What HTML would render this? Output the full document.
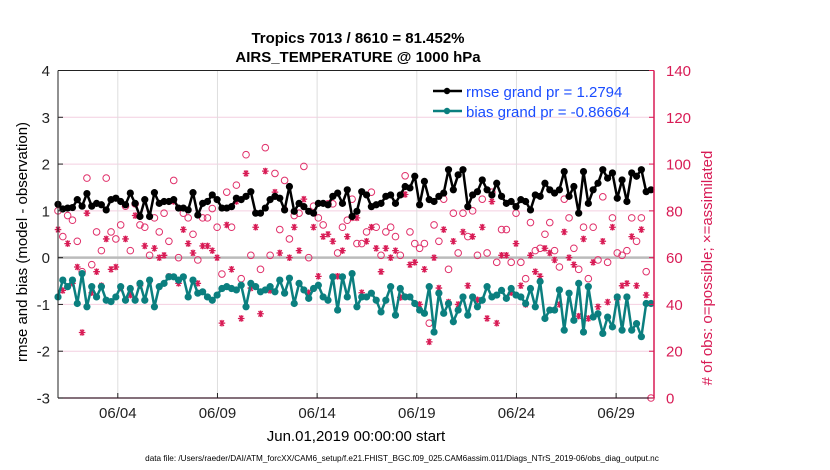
<!DOCTYPE html>
<html><head><meta charset="utf-8">
<style>
html,body{margin:0;padding:0;background:#fff;width:830px;height:470px;overflow:hidden}
svg text{font-family:"Liberation Sans",sans-serif}
</style></head>
<body>
<svg id="chart" width="830" height="470" viewBox="0 0 830 470" xmlns="http://www.w3.org/2000/svg">
<rect x="0" y="0" width="830" height="470" fill="#fff"/>
<text x="358" y="43" text-anchor="middle" font-size="15" font-weight="bold">Tropics 7013 / 8610 = 81.452%</text>
<text x="358" y="62" text-anchor="middle" font-size="15" font-weight="bold">AIRS_TEMPERATURE @ 1000 hPa</text>
<g id="grid"></g>
<g id="marks"></g>
<g id="axes"></g>
<text transform="translate(27,242) rotate(-90)" text-anchor="middle" font-size="15">rmse and bias (model - observation)</text>
<text transform="translate(712,268) rotate(-90)" text-anchor="middle" font-size="15" fill="#d81b55"># of obs: o=possible; ×=assimilated</text>
<text x="356" y="441" text-anchor="middle" font-size="15">Jun.01,2019 00:00:00 start</text>
<text x="402" y="461" text-anchor="middle" font-size="8.2">data file: /Users/raeder/DAI/ATM_forcXX/CAM6_setup/f.e21.FHIST_BGC.f09_025.CAM6assim.011/Diags_NTrS_2019-06/obs_diag_output.nc</text>
<g>
<line x1="433" y1="91" x2="462" y2="91" stroke="#000" stroke-width="2.5"/>
<circle cx="447" cy="91" r="3.2" fill="#000"/>
<text x="466" y="97" font-size="15" fill="#1a4cff">rmse grand pr = 1.2794</text>
<line x1="433" y1="111" x2="462" y2="111" stroke="#0b7f7f" stroke-width="2.5"/>
<circle cx="447" cy="111" r="3.2" fill="#0b7f7f"/>
<text x="466" y="117" font-size="15" fill="#1a4cff">bias grand pr = -0.86664</text>
</g>
</svg>
<script>
const rmse=[1.14,1.04,1.06,1.07,1.24,1.1,1.37,1.1,1.16,1.13,1.02,1.24,1.27,1.2,1.13,1.38,1.16,0.88,1.24,0.88,1.39,1.16,1.2,1.2,1.24,1.06,1.06,1.02,1.39,0.91,
1.16,1.2,1.34,1.24,1.06,1.06,1.09,1.27,1.24,1.31,1.41,0.95,0.95,1.06,1.24,1.31,1.27,1.02,1.52,0.99,1.16,1.09,0.99,0.95,1.16,1.16,1.13,1.31,1.38,1.16,1.45,0.88,
0.99,1.41,1.34,1.09,1.13,1.16,1.31,1.34,1.16,1.34,1.52,1.49,1.74,1.13,1.63,1.24,1.2,1.31,1.38,1.88,1.45,1.77,1.88,1.09,1.34,1.41,1.66,1.45,1.34,1.59,1.31,
1.16,1.2,1.09,1.24,1.2,1.02,1.34,1.31,1.59,1.45,1.38,1.45,1.84,1.31,1.52,0.95,1.84,1.16,1.45,1.59,1.88,1.7,1.81,1.27,1.66,1.2,1.81,1.74,1.88,1.41,1.45];
const bias=[-0.84,-0.48,-0.62,-0.48,-0.98,-0.34,-1.05,-0.62,-0.84,-0.62,-0.91,-0.94,-0.84,-0.62,-0.91,-0.66,-0.91,-0.55,-0.91,-0.48,-1.05,-0.62,-0.55,-0.41,-0.41,-0.48,-0.41,-0.84,-0.48,-0.76,
-0.73,-0.84,-0.91,-0.8,-0.66,-0.62,-0.66,-0.69,-0.59,-1.05,-0.55,-0.62,-0.73,-0.69,-0.62,-0.73,-0.48,-0.76,-0.44,-0.98,-0.55,-0.69,-0.87,-0.66,-0.59,-0.84,-0.91,-0.41,-1.12,-0.41,-0.84,-0.34,
-1.05,-0.84,-0.84,-0.76,-0.91,-1.16,-0.91,-0.62,-1.23,-0.66,-0.84,-0.84,-0.98,-1.12,-1.19,-0.62,-1.59,-0.76,-1.19,-0.98,-1.37,-1.12,-0.84,-1.23,-0.84,-1.05,-0.91,-0.62,-0.84,-0.8,-0.7,
-0.87,-0.66,-0.8,-0.84,-0.98,-0.66,-1.05,-0.51,-1.3,-1.12,-1.12,-0.69,-1.55,-0.76,-1.34,-0.55,-1.59,-0.62,-1.27,-1.2,-1.62,-1.27,-1.48,-0.84,-1.55,-0.84,-1.55,-1.41,-1.69,-0.98,-0.98];
const obsPossible=[80,69,78,76,67,54,94,57,71,63,94,71,68,74,82,63,83,74,73,61,77,71,79,67,93,60,79,77,70,59,77,
77,81,73,53,88,73,91,51,104,61,null,55,107,61,96,72,93,68,78,79,99,60,82,77,74,83,83,62,73,76,85,66,
66,71,88,73,61,71,73,69,61,95,71,66,64,66,32,74,67,85,55,79,62,79,69,80,61,85,62,88,58,72,
72,58,79,58,51,75,63,64,70,75,63,56,85,77,64,55,73,51,73,59,86,58,77,62,61,63,77,67,77,54,0];
const obsAssim=[72,46,66,49,56,28,79,45,54,48,68,55,56,47,68,44,78,48,65,50,64,60,61,52,84,49,72,66,62,49,65,
65,63,60,32,74,55,84,34,96,47,73,36,97,46,88,62,81,60,73,63,85,45,73,52,69,70,67,52,63,69,77,77,
45,67,73,64,54,64,60,63,43,87,57,58,40,55,24,60,47,72,41,67,40,71,48,69,42,73,34,84,32,61,
61,45,66,48,40,61,54,52,64,62,59,40,71,60,57,35,68,34,58,39,67,41,73,42,48,49,69,48,72,44,null];
const xTickDays=[3,8,13,18,23,28];
const xTickLabels=["06/04","06/09","06/14","06/19","06/24","06/29"];
const yLeftTicks=[-3,-2,-1,0,1,2,3,4];
const yRightTicks=[0,20,40,60,80,100,120,140];

const L=58,R=654,T=70.5,B=398;
const xS=d=>L+(d/29.9)*(R-L);
const yL=v=>B-(v+3)/7*(B-T);
const yR=c=>B-c/140*(B-T);
const tOf=i=>i*29.75/(rmse.length-1);
const NS="http://www.w3.org/2000/svg";
function mk(tag,attrs,parent){const e=document.createElementNS(NS,tag);for(const k in attrs)e.setAttribute(k,attrs[k]);parent.appendChild(e);return e;}
const grid=document.getElementById('grid'),marks=document.getElementById('marks'),axes=document.getElementById('axes');

yRightTicks.forEach(c=>{if(c>0&&c<140&&c!==60){const g=mk('line',{x1:L,x2:R,y1:yR(c),y2:yR(c),stroke:'#f4cfe0','stroke-width':1},grid);

}});
xTickDays.forEach(d=>{const g=mk('line',{x1:xS(d),x2:xS(d),y1:T,y2:B,stroke:'#dedede','stroke-width':1},grid);

});
const z=mk('line',{x1:L,x2:R,y1:yL(0),y2:yL(0),stroke:'#bbb','stroke-width':2.5},grid);



obsPossible.forEach((c,i)=>{if(c===null)return;const e=mk('circle',{cx:xS(tOf(i)),cy:yR(c),r:3.3,fill:'none',stroke:'#e0306a','stroke-width':1},marks);

});
obsAssim.forEach((c,i)=>{if(c===null)return;const x=xS(tOf(i)),y=yR(c),s=3.3;
const d=`M${x-s},${y}H${x+s}M${x-s*0.6},${y-s*0.85}L${x+s*0.6},${y+s*0.85}M${x+s*0.6},${y-s*0.85}L${x-s*0.6},${y+s*0.85}M${x},${y-s}V${y+s}`;
const e=mk('path',{d:d,stroke:'#d81b55','stroke-width':1.3,fill:'none'},marks);

});

function series(vals,color,name){
  const pts=vals.map((v,i)=>xS(tOf(i)).toFixed(1)+','+yL(v).toFixed(1)).join(' ');
  const pl=mk('polyline',{points:pts,fill:'none',stroke:color,'stroke-width':2.5,'stroke-linejoin':'round'},marks);
  
  
  vals.forEach((v,i)=>{const c=mk('circle',{cx:xS(tOf(i)),cy:yL(v),r:3.6,fill:color},marks);
  
  });
}
series(bias,'#0b7f7f','bias');
series(rmse,'#000','rmse');

const la=mk('line',{x1:L,x2:L,y1:T,y2:B,stroke:'#222','stroke-width':1},axes);


const ta=mk('line',{x1:L,x2:R,y1:T,y2:T,stroke:'#222','stroke-width':1},axes);


const ba=mk('line',{x1:L,x2:R,y1:B,y2:B,stroke:'#3a1a2a','stroke-width':1.2},axes);


const ra=mk('line',{x1:R,x2:R,y1:T,y2:B,stroke:'#d81b55','stroke-width':1.5},axes);


yLeftTicks.forEach(v=>{mk('line',{x1:L,x2:L+5,y1:yL(v),y2:yL(v),stroke:'#222'},axes);
const t=mk('text',{x:L-8,y:yL(v)+5.5,'text-anchor':'end','font-size':15,fill:'#222'},axes);t.textContent=v;

});
yRightTicks.forEach(c=>{mk('line',{x1:R-5,x2:R,y1:yR(c),y2:yR(c),stroke:'#d81b55'},axes);
const t=mk('text',{x:R+12,y:yR(c)+5.5,'font-size':15,fill:'#d81b55'},axes);t.textContent=c;

});
xTickDays.forEach((d,k)=>{mk('line',{x1:xS(d),x2:xS(d),y1:B,y2:B-5,stroke:'#222'},axes);
const t=mk('text',{x:xS(d),y:B+20,'text-anchor':'middle','font-size':15,fill:'#222'},axes);t.textContent=xTickLabels[k];

});
</script>
</body></html>
